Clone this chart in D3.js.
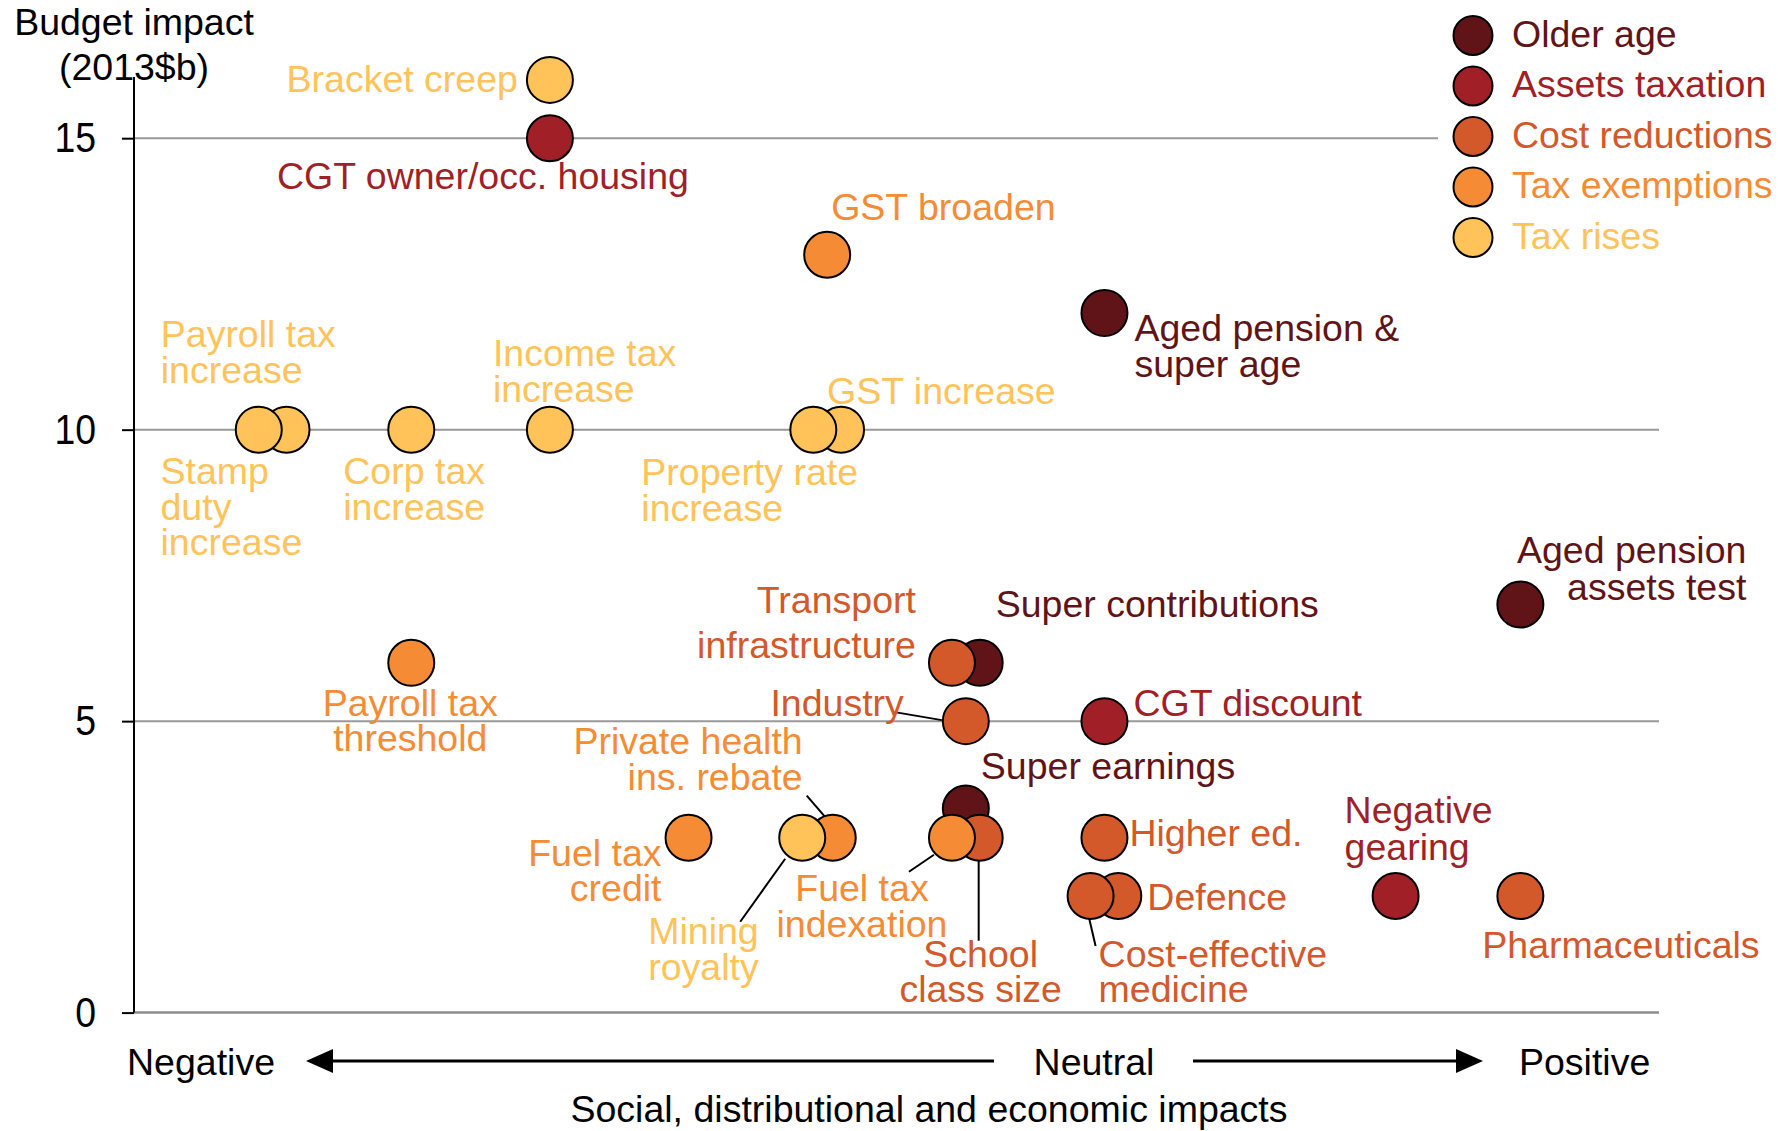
<!DOCTYPE html>
<html>
<head>
<meta charset="utf-8">
<script src="https://cdn.jsdelivr.net/npm/d3@7"></script>
<style>
  body { margin: 0; background: #fff; }
  svg text { font-family: "Liberation Sans", Arial, sans-serif; font-size: 37.5px; }
</style>
</head>
<body>
<script>
// categories and their colours
const categories = ["Older age", "Assets taxation", "Cost reductions", "Tax exemptions", "Tax rises"];
const palette = ["#611417", "#A11F27", "#D3582A", "#F58C35", "#FFC35A"];

// reform options, in drawing order (later ones sit on top)
const names = [
  "Bracket creep", "CGT owner/occ. housing", "GST broaden", "Aged pension & super age",
  "Stamp duty increase", "Payroll tax increase", "Corp tax increase", "Income tax increase",
  "GST increase", "Property rate increase", "Aged pension assets test", "Super contributions",
  "Transport infrastructure", "Payroll tax threshold", "Industry", "CGT discount",
  "Super earnings", "School class size", "Fuel tax indexation", "Fuel tax credit",
  "Private health ins. rebate", "Mining royalty", "Higher ed.", "Defence",
  "Cost-effective medicine", "Negative gearing", "Pharmaceuticals"
];
const groups = [
  "Tax rises", "Assets taxation", "Tax exemptions", "Older age",
  "Tax rises", "Tax rises", "Tax rises", "Tax rises",
  "Tax rises", "Tax rises", "Older age", "Older age",
  "Cost reductions", "Tax exemptions", "Cost reductions", "Assets taxation",
  "Older age", "Cost reductions", "Tax exemptions", "Tax exemptions",
  "Tax exemptions", "Tax rises", "Cost reductions", "Cost reductions",
  "Cost reductions", "Assets taxation", "Cost reductions"
];
// social/distributional/economic impact (negative -> positive)
const impact = [3, 3, 5, 7, 1.1, 0.9, 2, 3, 5.1, 4.9, 10, 6.1, 5.9, 2, 6, 7, 6, 6.1, 5.9, 4, 5.04, 4.82, 7, 7.1, 6.9, 9.1, 10];
// budget impact, 2013 $b
const budget = [16, 15, 13, 12, 10, 10, 10, 10, 10, 10, 7, 6, 6, 6, 5, 5, 3.5, 3, 3, 3, 3, 3, 3, 2, 2, 2, 2];

const yTicks = [0, 5, 10, 15];

// label placement: offset from the dot centre, one baseline per line, optional leader line
const labelPos = {
  "Bracket creep": { a: "end", dx: -32, dy: [12] },
  "CGT owner/occ. housing": { a: "middle", dx: -67, dy: [51] },
  "GST broaden": { a: "start", dx: 4, dy: [-35] },
  "Aged pension & super age": { a: "start", dx: 30, dy: [28, 64], lines: ["Aged pension &", "super age"] },
  "Stamp duty increase": { a: "start", dx: -126, dy: [54, 90, 125], lines: ["Stamp", "duty", "increase"] },
  "Payroll tax increase": { a: "start", dx: -98, dy: [-83, -47], lines: ["Payroll tax", "increase"] },
  "Corp tax increase": { a: "start", dx: -68, dy: [54, 90], lines: ["Corp tax", "increase"] },
  "Income tax increase": { a: "start", dx: -57, dy: [-64, -28], lines: ["Income tax", "increase"] },
  "GST increase": { a: "start", dx: -14, dy: [-26] },
  "Property rate increase": { a: "start", dx: -172, dy: [55, 91], lines: ["Property rate", "increase"] },
  "Aged pension assets test": { a: "end", dx: 226, dy: [-42, -5], lines: ["Aged pension", "assets test"] },
  "Super contributions": { a: "start", dx: 16, dy: [-46] },
  "Transport infrastructure": { a: "end", dx: -36, dy: [-50, -5], lines: ["Transport", "infrastructure"] },
  "Payroll tax threshold": { a: "middle", dx: -1, dy: [53, 88], lines: ["Payroll tax", "threshold"] },
  "Industry": { a: "end", dx: -62, dy: [-5], leader: [-71, -9, -24, -1] },
  "CGT discount": { a: "start", dx: 29, dy: [-5] },
  "Super earnings": { a: "start", dx: 15, dy: [-30] },
  "School class size": { a: "middle", dx: 1, dy: [129, 164], lines: ["School", "class size"], leader: [-1, 23, -1, 103] },
  "Fuel tax indexation": { a: "middle", dx: -90, dy: [63, 99], lines: ["Fuel tax", "indexation"], leader: [-43, 34, -18, 17] },
  "Fuel tax credit": { a: "end", dx: -27, dy: [28, 63], lines: ["Fuel tax", "credit"] },
  "Private health ins. rebate": { a: "end", dx: -30, dy: [-84, -48], lines: ["Private health", "ins. rebate"], leader: [-26, -42, -7, -20] },
  "Mining royalty": { a: "start", dx: -154, dy: [106, 142], lines: ["Mining", "royalty"], leader: [-62, 84, -17, 21] },
  "Higher ed.": { a: "start", dx: 25, dy: [8] },
  "Defence": { a: "start", dx: 29, dy: [14] },
  "Cost-effective medicine": { a: "start", dx: 8, dy: [71, 106], lines: ["Cost-effective", "medicine"], leader: [-2, 20, 5, 50] },
  "Negative gearing": { a: "start", dx: -51, dy: [-73, -36], lines: ["Negative", "gearing"] },
  "Pharmaceuticals": { a: "start", dx: -38, dy: [62] }
};

const W = 1778, H = 1131;
const colour = d3.scaleOrdinal().domain(categories).range(palette);

const svg = d3.select("body").append("svg").attr("width", W).attr("height", H);

const x = d3.scaleLinear().domain([0, 11]).range([134, 1659]);
const y = d3.scaleLinear().domain([0, 16]).range([1012.6, 79.9]);

// gridlines
svg.append("g").selectAll("line").data(yTicks).enter().append("line")
  .attr("x1", x(0)).attr("x2", d => d === 15 ? 1438 : 1659)
  .attr("y1", d => y(d)).attr("y2", d => y(d))
  .attr("stroke", d => d === 0 ? "#8c8c8c" : "#999").attr("stroke-width", d => d === 0 ? 2.5 : 2);

// y axis
const yAxis = d3.axisLeft(y).tickValues(yTicks).tickSize(12).tickSizeOuter(0).tickPadding(26);
const gy = svg.append("g").attr("transform", `translate(${x(0)},0)`).call(yAxis);
gy.select(".domain").attr("stroke", "#000").attr("stroke-width", 2).attr("d", `M0,${y(0)}V77`);
gy.selectAll(".tick line").attr("stroke", "#000").attr("stroke-width", 2);
gy.selectAll(".tick text").style("font-size", "43px").attr("fill", "#000").attr("font-family", null)
  .each(function() {
    // tick numerals are drawn a little condensed
    const w = this.getComputedTextLength();
    d3.select(this).attr("textLength", w * 0.87).attr("lengthAdjust", "spacingAndGlyphs");
  });

svg.append("text").attr("x", x(0)).attr("y", 35).attr("text-anchor", "middle").text("Budget impact");
svg.append("text").attr("x", x(0)).attr("y", 80).attr("text-anchor", "middle").text("(2013$b)");

// points
const pts = names.map((n, i) => ({ name: n, group: groups[i], ix: impact[i], b: budget[i] }));

// leader lines
svg.append("g").selectAll("line").data(pts.filter(d => labelPos[d.name].leader)).enter().append("line")
  .attr("x1", d => x(d.ix) + labelPos[d.name].leader[0])
  .attr("y1", d => y(d.b) + labelPos[d.name].leader[1])
  .attr("x2", d => x(d.ix) + labelPos[d.name].leader[2])
  .attr("y2", d => y(d.b) + labelPos[d.name].leader[3])
  .attr("stroke", "#000").attr("stroke-width", 2);

svg.append("g").selectAll("circle").data(pts).enter().append("circle")
  .attr("cx", d => x(d.ix)).attr("cy", d => y(d.b)).attr("r", 23)
  .attr("fill", d => colour(d.group)).attr("stroke", "#000").attr("stroke-width", 2);

// labels
const lab = svg.append("g").selectAll("text").data(pts).enter().append("text")
  .attr("text-anchor", d => labelPos[d.name].a)
  .attr("fill", d => colour(d.group));
lab.each(function(d) {
  const p = labelPos[d.name];
  const lines = p.lines || [d.name];
  d3.select(this).selectAll("tspan").data(lines).enter().append("tspan")
    .attr("x", x(d.ix) + p.dx)
    .attr("y", (t, i) => y(d.b) + p.dy[i])
    .text(t => t);
});

// legend
const lg = svg.append("g").selectAll("g").data(categories).enter().append("g")
  .attr("transform", (d, i) => `translate(1473,${35.5 + i * 50.5})`);
lg.append("circle").attr("r", 19.5).attr("fill", d => colour(d)).attr("stroke", "#000").attr("stroke-width", 2);
lg.append("text").attr("x", 39).attr("y", 11).attr("fill", d => colour(d)).text(d => d);

// bottom axis: negative <- neutral -> positive
const ay = 1061;
svg.append("text").attr("x", 127).attr("y", 1075).text("Negative");
svg.append("text").attr("x", 1094).attr("y", 1075).attr("text-anchor", "middle").text("Neutral");
svg.append("text").attr("x", 1519).attr("y", 1075).text("Positive");
svg.append("line").attr("x1", 994).attr("x2", 325).attr("y1", ay).attr("y2", ay).attr("stroke", "#000").attr("stroke-width", 3);
svg.append("path").attr("d", `M306,${ay}L333,${ay - 12}L333,${ay + 12}Z`).attr("fill", "#000");
svg.append("line").attr("x1", 1193).attr("x2", 1462).attr("y1", ay).attr("y2", ay).attr("stroke", "#000").attr("stroke-width", 3);
svg.append("path").attr("d", `M1483,${ay}L1456,${ay - 12}L1456,${ay + 12}Z`).attr("fill", "#000");
svg.append("text").attr("x", 929).attr("y", 1122).attr("text-anchor", "middle").text("Social, distributional and economic impacts");
</script>
</body>
</html>
